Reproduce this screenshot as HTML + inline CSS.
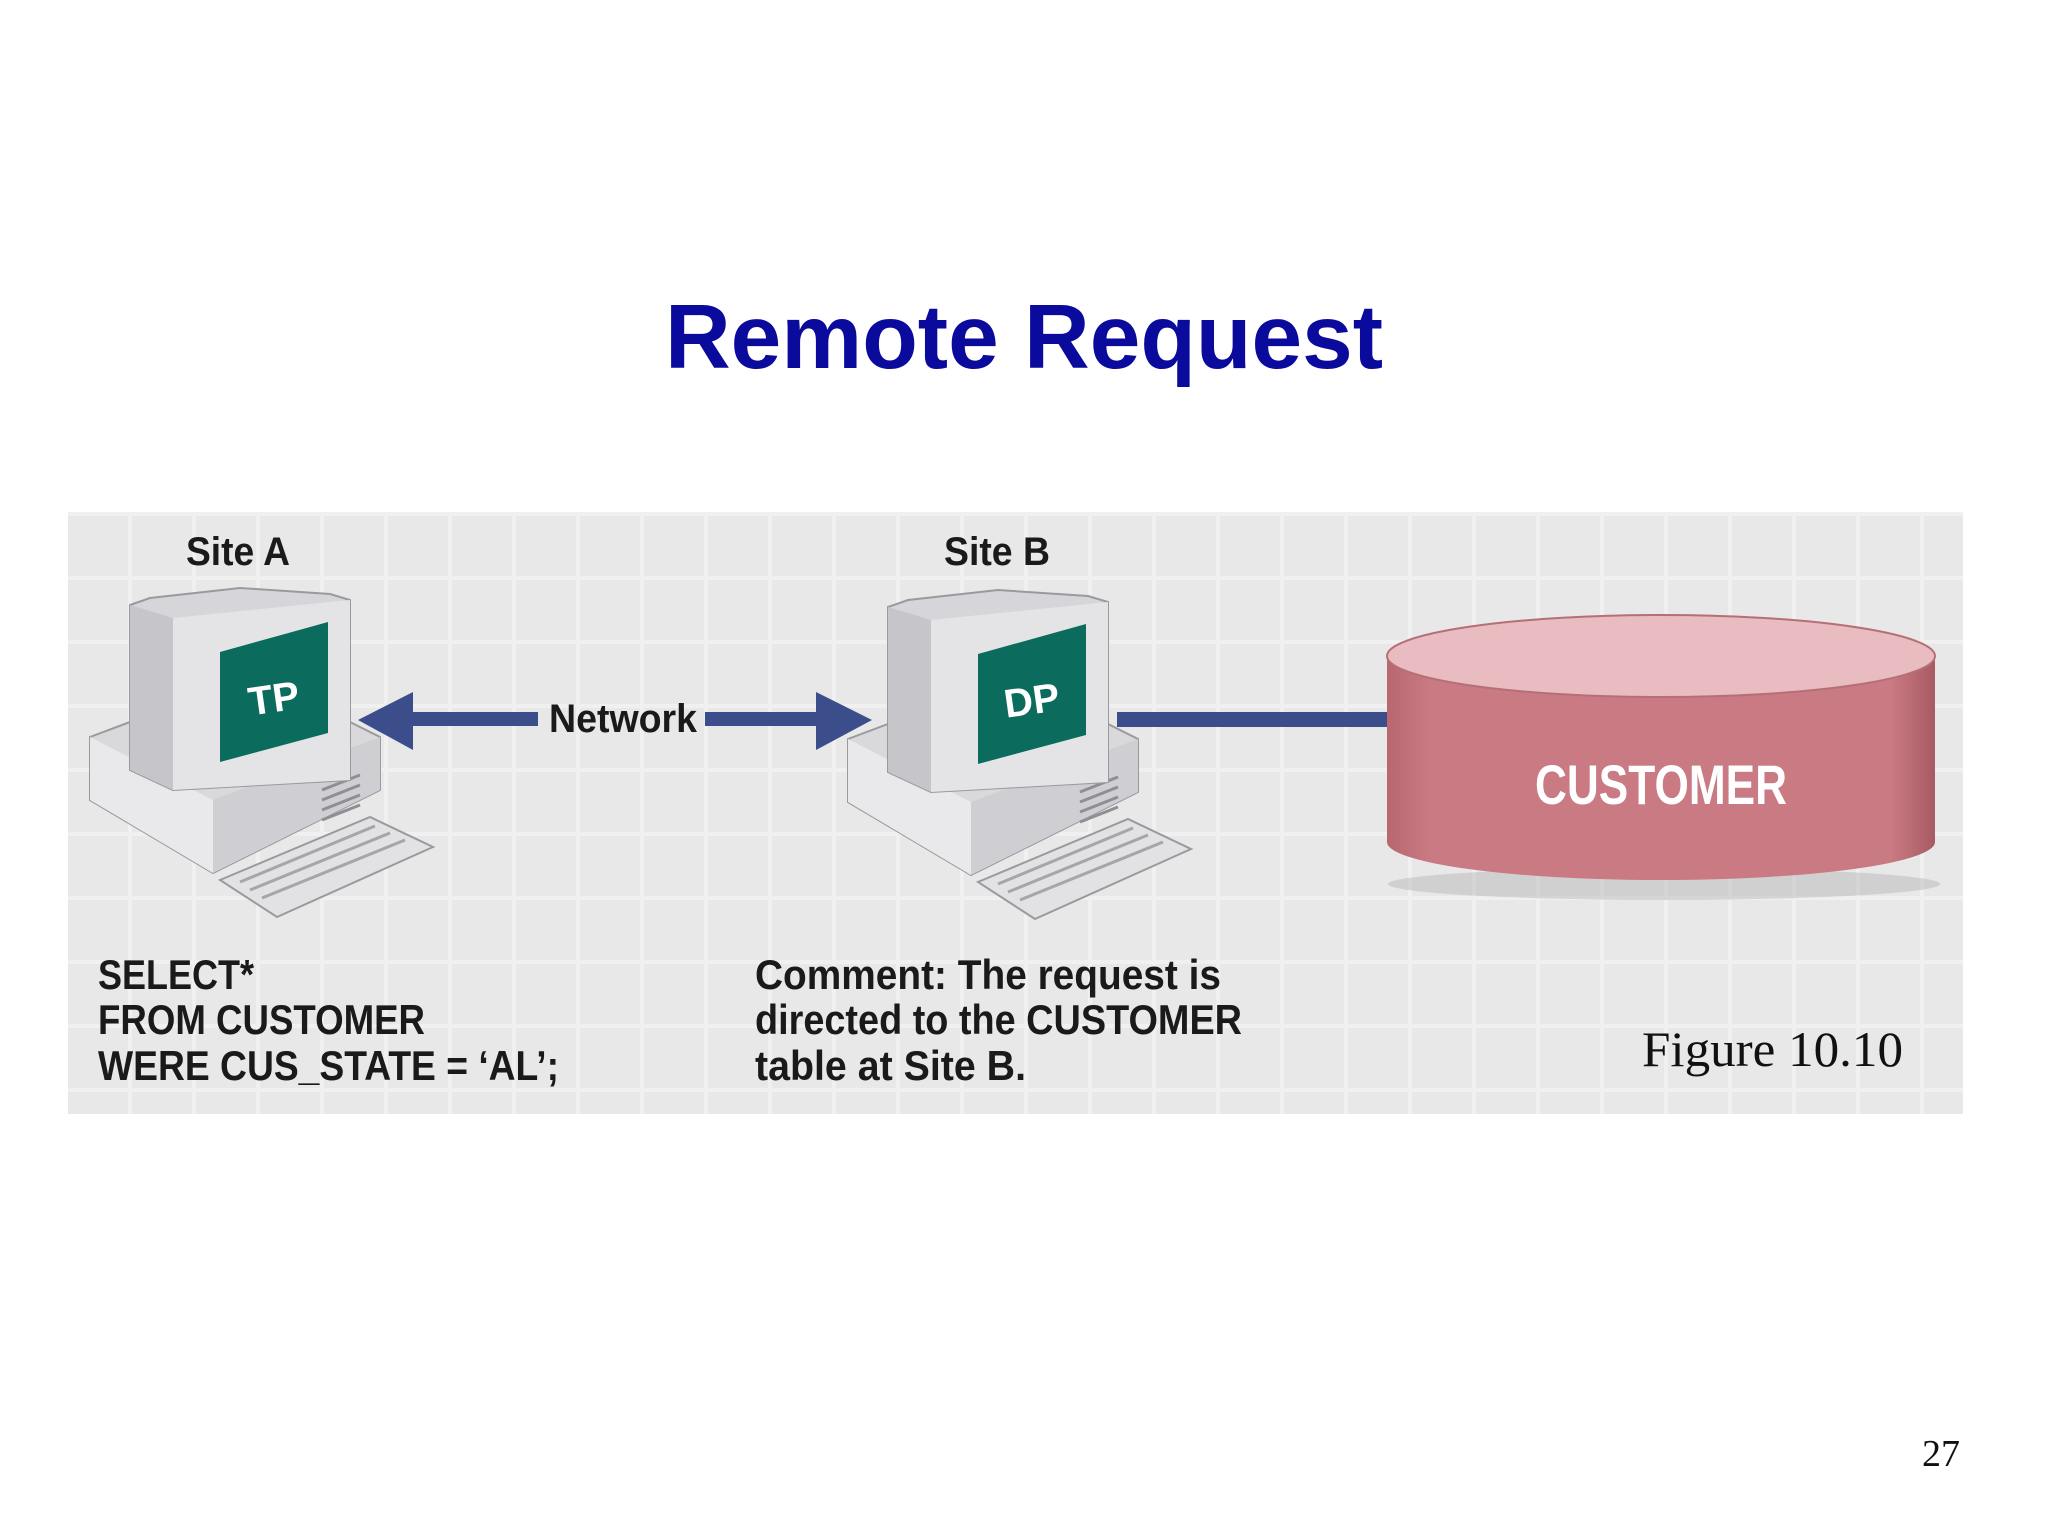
<!DOCTYPE html>
<html><head><meta charset="utf-8"><style>
html,body{margin:0;padding:0;background:#fff}
svg{display:block}
</style></head><body>
<svg width="2048" height="1536" viewBox="0 0 2048 1536" xmlns="http://www.w3.org/2000/svg" font-family="Liberation Sans, Arial, sans-serif">
<defs>
<pattern id="grid" width="64" height="64" patternUnits="userSpaceOnUse">
<rect width="64" height="64" fill="#e7e8e7"/>
<rect x="0" y="0" width="4" height="64" fill="#eff0ef"/>
<rect x="0" y="0" width="64" height="4" fill="#eff0ef"/>
</pattern>
<linearGradient id="side" x1="0" x2="1" y1="0" y2="0">
<stop offset="0" stop-color="#b8676f"/><stop offset="0.08" stop-color="#c97a83"/><stop offset="0.92" stop-color="#c97a83"/><stop offset="1" stop-color="#a85a62"/>
</linearGradient>
<g id="comp">
<polygon points="90,737 130,722 350,722 380,737 380,790 213,873 90,800" fill="#d9d9dc" stroke="#9a9a9e" stroke-width="2"/>
<polygon points="90,737 213,800 213,873 90,800" fill="#e9e9ec"/>
<polygon points="213,800 380,737 380,790 213,873" fill="#cfcfd3"/>
<g stroke="#8e8e94" stroke-width="3">
<line x1="322" y1="790" x2="360" y2="775"/><line x1="322" y1="800" x2="360" y2="785"/><line x1="322" y1="810" x2="360" y2="795"/><line x1="322" y1="820" x2="360" y2="805"/>
</g>
<polygon points="130,605 150,598 240,588 330,594 350,600 350,780 173,790 130,770" fill="#d6d6da" stroke="#9a9a9e" stroke-width="2"/>
<polygon points="130,605 173,618 173,790 130,770" fill="#c5c5ca"/>
<polygon points="173,618 350,600 350,780 173,790" fill="#e4e4e7"/>
<polygon points="220,652 328,622 328,733 220,762" fill="#0b6b5c"/>
<polygon points="220,880 370,817 433,847 277,917" fill="#e2e2e5" stroke="#9a9a9e" stroke-width="2"/>
<g stroke="#a5a5aa" stroke-width="3">
<line x1="240" y1="882" x2="375" y2="826"/><line x1="250" y1="890" x2="390" y2="833"/><line x1="262" y1="898" x2="405" y2="840"/>
</g>
</g>
</defs>

<text x="1024" y="368" text-anchor="middle" font-size="91" font-weight="bold" fill="#0a0a9c">Remote Request</text>

<rect x="68" y="512" width="1895" height="602" fill="url(#grid)"/>

<text x="186" y="565" font-size="40" font-weight="bold" fill="#1a1a1a" textLength="104" lengthAdjust="spacingAndGlyphs">Site A</text>
<use href="#comp"/>
<text x="274" y="712" font-size="40" font-weight="bold" fill="#fff" text-anchor="middle" transform="rotate(-8 274 700)">TP</text>

<text x="944" y="565" font-size="40" font-weight="bold" fill="#1a1a1a" textLength="106" lengthAdjust="spacingAndGlyphs">Site B</text>
<use href="#comp" transform="translate(758,2)"/>
<text x="1032" y="714" font-size="40" font-weight="bold" fill="#fff" text-anchor="middle" transform="rotate(-8 1032 702)">DP</text>

<rect x="405" y="712" width="133" height="14" fill="#3c4d8c"/>
<polygon points="358,720 413,692 413,750" fill="#3c4d8c"/>
<text x="549" y="732" font-size="40" font-weight="bold" fill="#1a1a1a" textLength="148" lengthAdjust="spacingAndGlyphs">Network</text>
<rect x="705" y="712" width="120" height="14" fill="#3c4d8c"/>
<polygon points="872,720 816,692 816,750" fill="#3c4d8c"/>
<rect x="1117" y="712" width="275" height="15" fill="#3c4d8c"/>

<ellipse cx="1664" cy="884" rx="276" ry="16" fill="#999" opacity="0.3"/>
<path d="M1387,656 L1387,842 A274,38 0 0 0 1935,842 L1935,656 Z" fill="url(#side)"/>
<ellipse cx="1661" cy="656" rx="274" ry="41" fill="#e8bcc0" stroke="#b56f77" stroke-width="2"/>
<text x="1661" y="804" font-size="56" font-weight="bold" fill="#fff" text-anchor="middle" textLength="252" lengthAdjust="spacingAndGlyphs">CUSTOMER</text>

<g font-size="42" font-weight="bold" fill="#1a1a1a">
<text x="98" y="989" textLength="156" lengthAdjust="spacingAndGlyphs">SELECT*</text>
<text x="98" y="1034" textLength="327" lengthAdjust="spacingAndGlyphs">FROM CUSTOMER</text>
<text x="98" y="1080" textLength="461" lengthAdjust="spacingAndGlyphs">WERE CUS_STATE = ‘AL’;</text>
<text x="755" y="989" textLength="466" lengthAdjust="spacingAndGlyphs">Comment: The request is</text>
<text x="755" y="1034" textLength="487" lengthAdjust="spacingAndGlyphs">directed to the CUSTOMER</text>
<text x="755" y="1080" textLength="271" lengthAdjust="spacingAndGlyphs">table at Site B.</text>
</g>
<text x="1642" y="1066" font-family="Liberation Serif, serif" font-size="50" fill="#111" textLength="261" lengthAdjust="spacingAndGlyphs">Figure 10.10</text>
<text x="1960" y="1466" font-family="Liberation Serif, serif" font-size="38" fill="#111" text-anchor="end">27</text>
</svg>
</body></html>
